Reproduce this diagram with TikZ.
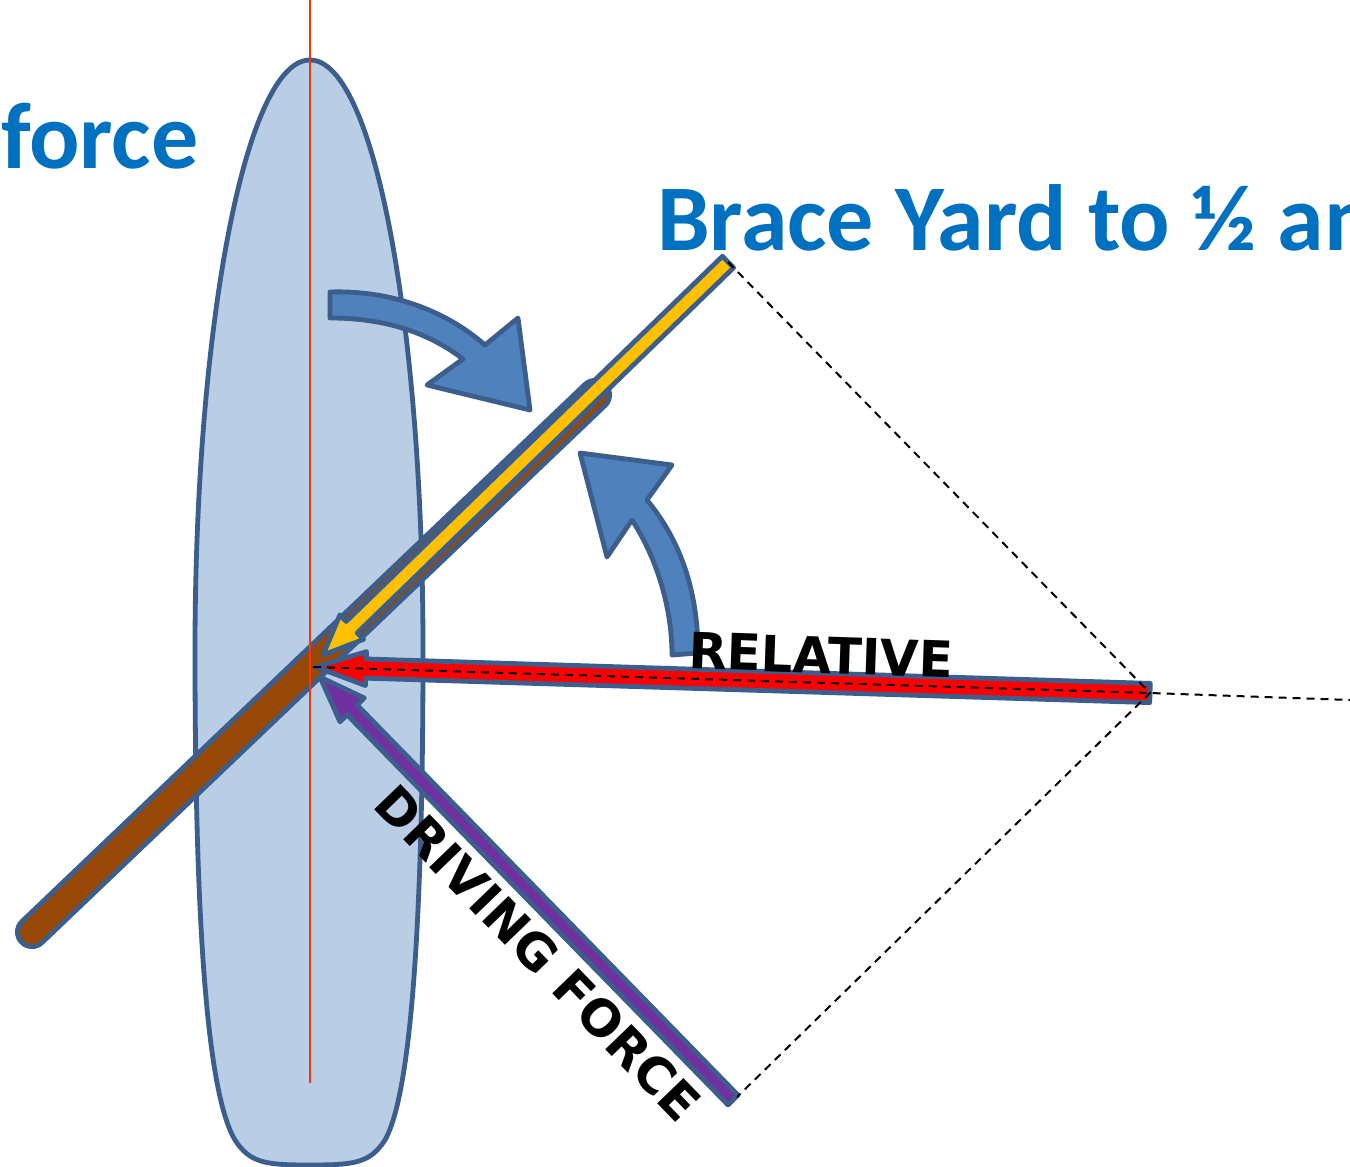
\documentclass[tikz,border=0pt]{standalone}
\usepackage{fontspec}
\setmainfont{Carlito}
\newfontfamily\heavyfont{DejaVu Sans}
\usetikzlibrary{calc}
\definecolor{hullFill}{HTML}{B9CDE5}
\definecolor{edgeBlue}{HTML}{3B5E8C}
\definecolor{turnBlue}{HTML}{4F81BD}
\definecolor{titleBlue}{HTML}{0070C0}
\definecolor{yardBrown}{HTML}{974806}
\definecolor{keelRed}{HTML}{FF3300}
\definecolor{sailYellow}{HTML}{FFC000}
\definecolor{drivePurple}{HTML}{7030A0}

% block arrow: style, tail, tip, half shaft, half head, head length
\newcommand{\blockarrow}[6]{%
  \coordinate (headbase) at ($(#3)!#6!(#2)$);
  \draw[#1] ($(#2)!#4!90:(#3)$) -- ($(headbase)!#4!90:(#3)$) -- ($(headbase)!#5!90:(#3)$) -- (#3)
    -- ($(headbase)!#5!-90:(#3)$) -- ($(headbase)!#4!-90:(#3)$) -- ($(#2)!#4!-90:(#3)$) -- cycle;}

\begin{document}
\begin{tikzpicture}[x=0.5pt, y=-0.5pt,
    outlined/.style={draw=edgeBlue, line width=2.4pt, line join=round},
    guide/.style={draw=black, line width=1pt, dash pattern=on 4pt off 3pt},
    title/.style={text=titleBlue, font=\bfseries\fontsize{47}{50}\selectfont, anchor=base west},
    caption/.style={font=\heavyfont\bfseries\fontsize{25}{27}\selectfont}]
    \useasboundingbox (0,0) rectangle (1350,1167);
    \clip (0,0) rectangle (1350,1167);

    \coordinate (pivot) at (313,667);
    \coordinate (yardlow) at (32,932);
    \coordinate (yardhigh) at (595,395);
    \coordinate (sailtail) at (728,262);
    \coordinate (sailtip) at (323,655);
    \coordinate (reltail) at (1150,693);
    \coordinate (reltip) at (316,667);
    \coordinate (drivetail) at (733,1100);
    \coordinate (drivetip) at (320,677);
    \coordinate (farright) at (1350,700);
    \coordinate (bowtop) at (310,0);
    \coordinate (keelend) at (310,1083);

    % hull
    \draw[outlined, fill=hullFill] (310,60) .. controls (245,60) and (195,330) .. (195,650)
        .. controls (195,900) and (205,1090) .. (235,1140)
        .. controls (250,1163) and (265,1165) .. (310,1165)
        .. controls (355,1165) and (370,1163) .. (385,1140)
        .. controls (413,1090) and (423,900) .. (423,650)
        .. controls (423,330) and (375,60) .. (310,60) -- cycle;

    % yard
    \draw[edgeBlue, line width=17pt, line cap=round] (yardlow) -- (yardhigh);
    \draw[yardBrown, line width=12pt, line cap=round] (yardlow) -- (yardhigh);
    \draw[keelRed, line width=1pt] (bowtop) -- (keelend);

    % force vectors
    \blockarrow{outlined, fill=sailYellow}{sailtail}{sailtip}{4pt}{8.5pt}{20pt}
    \blockarrow{outlined, fill=red}{reltail}{reltip}{4.8pt}{8.5pt}{25pt}
    \blockarrow{outlined, fill=drivePurple}{drivetail}{drivetip}{3.5pt}{8.5pt}{23pt}

    \draw[guide] (sailtail) -- (reltail) -- (737,1097);
    \draw[guide] (pivot) -- (reltail) -- (farright);

    % turning arrows
    \draw[outlined, fill=turnBlue] (330,292) .. controls (390,290) and (445,310) .. (485,345)
        -- (518,318) -- (530,410) -- (427,385) -- (463,359)
        .. controls (425,330) and (380,318) .. (330,318) -- cycle;
    \draw[outlined, fill=turnBlue] (672,655) -- (698,653) .. controls (698,590) and (680,540) .. (647,500)
        -- (672,465) -- (580,453) -- (607,557) -- (632,520)
        .. controls (658,560) and (672,610) .. (672,655) -- cycle;

    \node[title] (forcelabel) at (-6,168) {force};
    \node[title] (bracelabel) at (650,250) {Brace Yard to ½ an};
    \node[caption, rotate=-2] (relativelabel) at (821,655) {RELATIVE};
    \node[caption, rotate=-46] (drivelabel) at (538,953) {DRIVING FORCE};
\end{tikzpicture}
\end{document}
